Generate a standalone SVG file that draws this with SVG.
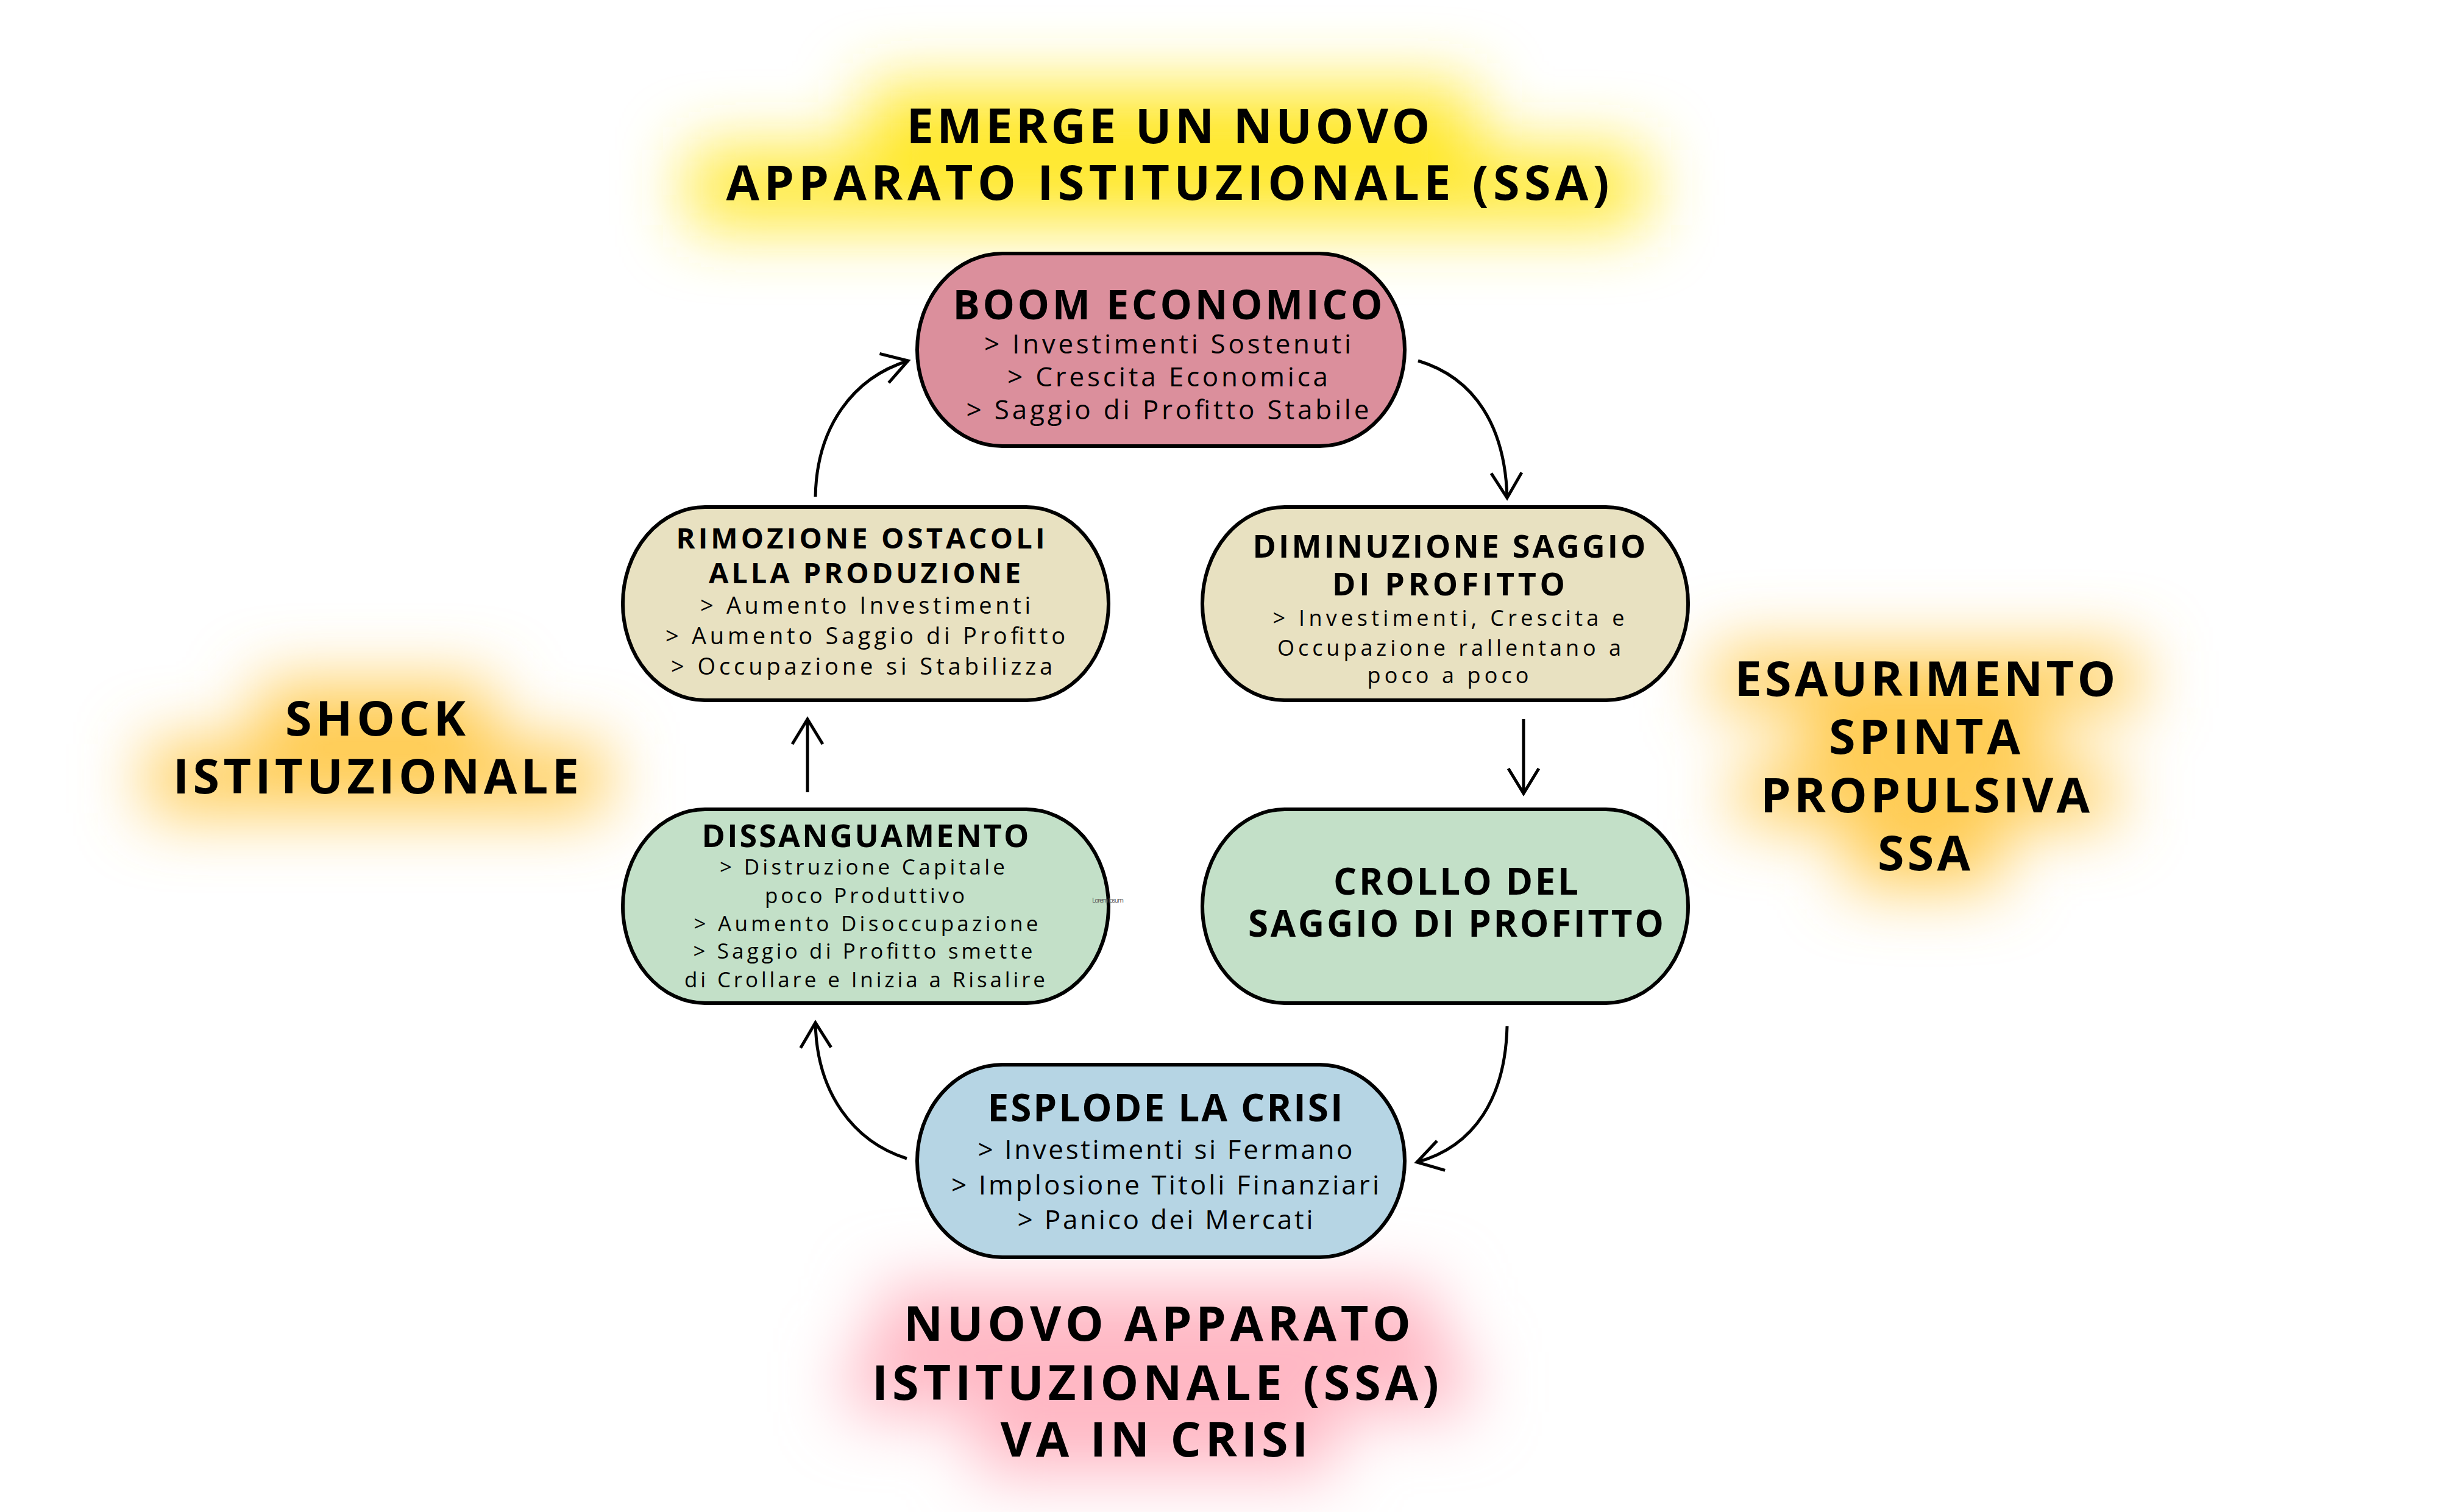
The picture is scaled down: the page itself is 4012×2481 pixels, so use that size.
<svg xmlns="http://www.w3.org/2000/svg" width="4012" height="2481" viewBox="0 0 4012 2481">
<style>
.node{stroke:#000;stroke-width:6}
.t{font-family:"Open Sans","Liberation Sans",sans-serif;fill:#000;text-anchor:middle}
.b{font-weight:700}
.r{font-weight:400}
.big{font-size:79px;font-weight:700}
.conn{fill:none;stroke:#000;stroke-width:5}
</style>
<defs>
<filter id="blur" x="-50%" y="-50%" width="200%" height="200%"><feGaussianBlur stdDeviation="55"/></filter>
<marker id="arr" markerUnits="userSpaceOnUse" viewBox="-60 -40 70 80" refX="0" refY="0" markerWidth="70" markerHeight="80" orient="auto" overflow="visible">
<path d="M-41,-25 L0,0 L-41,25" fill="none" stroke="#000" stroke-width="5"/>
</marker>
</defs>
<rect width="4012" height="2481" fill="#fff"/>

<g id="glows" filter="url(#blur)">
<g fill="#FFE82E">
<rect x="1420" y="140" width="1000" height="135"/>
<rect x="1130" y="245" width="1570" height="125"/>
</g>
<g fill="#FFCC55">
<rect x="420" y="1120" width="390" height="110"/>
<rect x="240" y="1220" width="755" height="115"/>
<rect x="2810" y="1065" width="700" height="100"/>
<rect x="2960" y="1160" width="395" height="100"/>
<rect x="2850" y="1255" width="620" height="95"/>
<rect x="3030" y="1345" width="255" height="110"/>
</g>
<g fill="#FFB8C4">
<rect x="1440" y="2110" width="920" height="110"/>
<rect x="1390" y="2215" width="1020" height="105"/>
<rect x="1600" y="2310" width="590" height="110"/>
</g>
</g>

<g id="label-emerge">
<text class="t big" x="1917" y="235" textLength="859">EMERGE UN NUOVO</text>
<text class="t big" x="1916" y="328" textLength="1449">APPARATO ISTITUZIONALE (SSA)</text>
</g>
<g id="label-shock">
<text class="t big" x="616" y="1207" textLength="296">SHOCK</text>
<text class="t big" x="617" y="1302" textLength="666">ISTITUZIONALE</text>
</g>
<g id="label-esaurimento">
<text class="t big" x="3159" y="1142" textLength="625">ESAURIMENTO</text>
<text class="t big" x="3158" y="1237" textLength="314">SPINTA</text>
<text class="t big" x="3159" y="1333" textLength="540">PROPULSIVA</text>
<text class="t big" x="3157" y="1428" textLength="152">SSA</text>
</g>
<g id="label-nuovo">
<text class="t big" x="1899" y="2200" textLength="832">NUOVO APPARATO</text>
<text class="t big" x="1896" y="2297" textLength="930">ISTITUZIONALE (SSA)</text>
<text class="t big" x="1894" y="2390" textLength="505">VA IN CRISI</text>
</g>

<g id="connectors">
<path class="conn" d="M1338,815 C1340,700 1400,620 1490,592" marker-end="url(#arr)"/>
<path class="conn" d="M2327,592 C2420,620 2470,700 2473,817" marker-end="url(#arr)"/>
<path class="conn" d="M2500,1180 L2500,1302" marker-end="url(#arr)"/>
<path class="conn" d="M2473,1684 C2470,1801 2420,1881 2325,1907" marker-end="url(#arr)"/>
<path class="conn" d="M1488,1901 C1400,1873 1340,1793 1338,1678" marker-end="url(#arr)"/>
<path class="conn" d="M1325,1300 L1325,1180" marker-end="url(#arr)"/>
</g>

<g id="node-boom">
<rect class="node" x="1505" y="416" width="800" height="316" rx="140" ry="158" fill="#DB8F9C"/>
<text class="t b" font-size="66" x="1916" y="524" textLength="705">BOOM ECONOMICO</text>
<text class="t r" font-size="44" x="1916" y="580" textLength="602">&gt; Investimenti Sostenuti</text>
<text class="t r" font-size="44" x="1916" y="634" textLength="526">&gt; Crescita Economica</text>
<text class="t r" font-size="44" x="1916" y="688" textLength="661">&gt; Saggio di Profitto Stabile</text>
</g>

<g id="node-rimozione">
<rect class="node" x="1022" y="832" width="797" height="317" rx="135" ry="158" fill="#E8E1C1"/>
<text class="t b" font-size="47" x="1412" y="900" textLength="605">RIMOZIONE OSTACOLI</text>
<text class="t b" font-size="47" x="1419" y="957" textLength="512">ALLA PRODUZIONE</text>
<text class="t r" font-size="38" x="1420" y="1007" textLength="542">&gt; Aumento Investimenti</text>
<text class="t r" font-size="38" x="1420" y="1057" textLength="656">&gt; Aumento Saggio di Profitto</text>
<text class="t r" font-size="38" x="1414" y="1107" textLength="626">&gt; Occupazione si Stabilizza</text>
</g>

<g id="node-diminuzione">
<rect class="node" x="1973" y="832" width="797" height="317" rx="135" ry="158" fill="#E8E1C1"/>
<text class="t b" font-size="52" x="2378" y="915" textLength="645">DIMINUZIONE SAGGIO</text>
<text class="t b" font-size="52" x="2377" y="977" textLength="382">DI PROFITTO</text>
<text class="t r" font-size="36" x="2377" y="1027" textLength="577">&gt; Investimenti, Crescita e</text>
<text class="t r" font-size="36" x="2378" y="1076" textLength="564">Occupazione rallentano a</text>
<text class="t r" font-size="36" x="2376" y="1121" textLength="265">poco a poco</text>
</g>

<g id="node-dissanguamento">
<rect class="node" x="1022" y="1328" width="797" height="318" rx="135" ry="159" fill="#C3E0C8"/>
<text class="t b" font-size="52" x="1420" y="1390" textLength="537">DISSANGUAMENTO</text>
<text class="t r" font-size="35" x="1415" y="1435" textLength="468">&gt; Distruzione Capitale</text>
<text class="t r" font-size="35" x="1419" y="1482" textLength="328">poco Produttivo</text>
<text class="t r" font-size="35" x="1421" y="1528" textLength="565">&gt; Aumento Disoccupazione</text>
<text class="t r" font-size="35" x="1416" y="1573" textLength="557">&gt; Saggio di Profitto smette</text>
<text class="t r" font-size="35" x="1419" y="1620" textLength="592">di Crollare e Inizia a Risalire</text>
<text font-family="Open Sans, Liberation Sans, sans-serif" font-size="11" fill="#555" x="1792" y="1481" textLength="52">Lorem Ipsum</text>
</g>

<g id="node-crollo">
<rect class="node" x="1973" y="1328" width="797" height="318" rx="135" ry="159" fill="#C3E0C8"/>
<text class="t b" font-size="60" x="2389" y="1468" textLength="402">CROLLO DEL</text>
<text class="t b" font-size="60" x="2389" y="1537" textLength="682">SAGGIO DI PROFITTO</text>
</g>

<g id="node-esplode">
<rect class="node" x="1505" y="1747" width="800" height="316" rx="140" ry="158" fill="#B6D5E4"/>
<text class="t b" font-size="62" x="1912" y="1840" textLength="583">ESPLODE LA CRISI</text>
<text class="t r" font-size="44" x="1912" y="1902" textLength="615">&gt; Investimenti si Fermano</text>
<text class="t r" font-size="44" x="1912" y="1960" textLength="702">&gt; Implosione Titoli Finanziari</text>
<text class="t r" font-size="44" x="1912" y="2017" textLength="485">&gt; Panico dei Mercati</text>
</g>
</svg>
